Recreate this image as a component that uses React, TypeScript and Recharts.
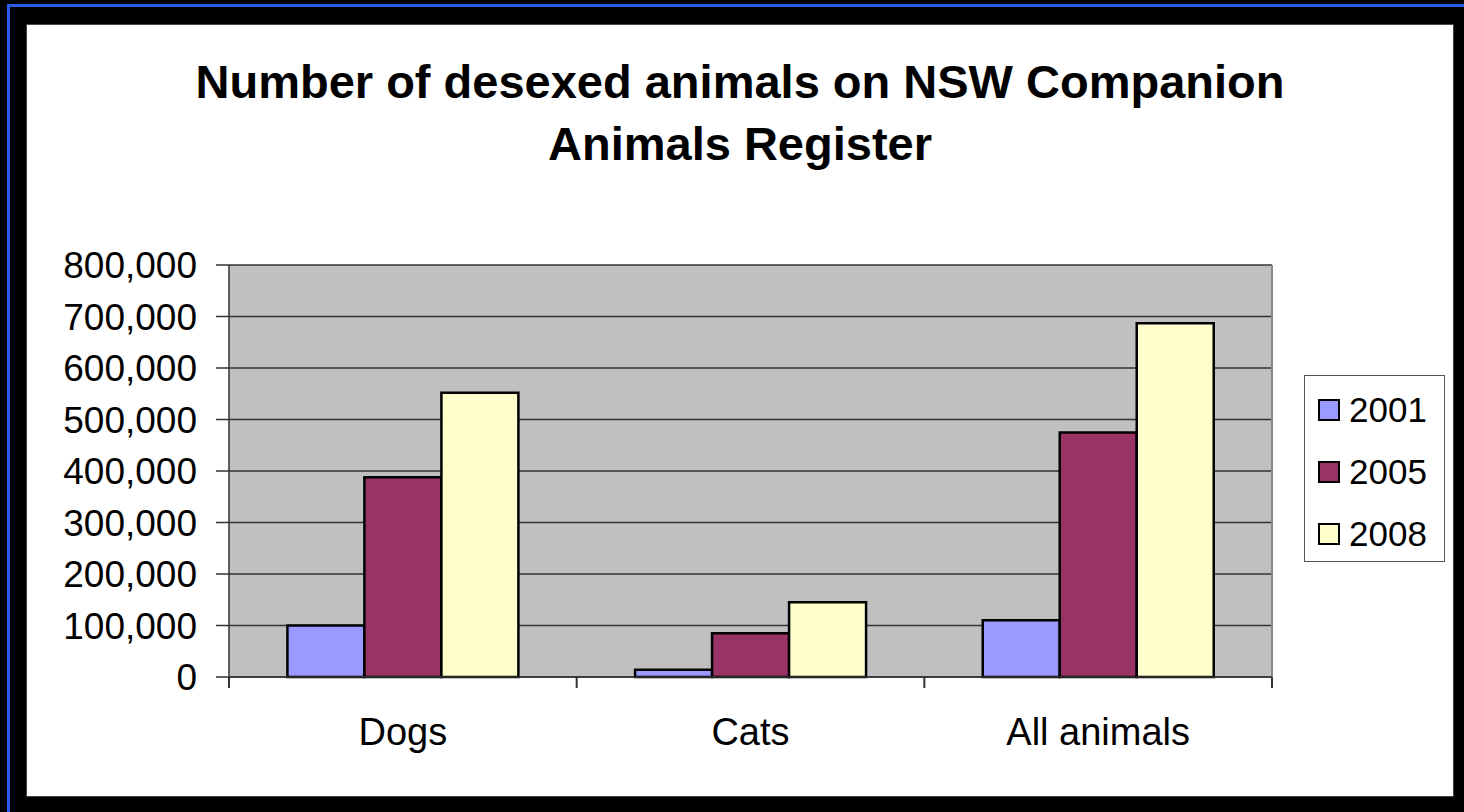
import { BarChart, Bar, XAxis, YAxis, CartesianGrid } from "recharts";

// values
const categories = ["Dogs", "Cats", "All animals"];
const years = ["2001", "2005", "2008"];
const values2001 = [100000, 14000, 110000];
const values2005 = [388000, 85000, 475000];
const values2008 = [552000, 145000, 687000];
const yTicks = [0, 100000, 200000, 300000, 400000, 500000, 600000, 700000, 800000];

const colors = ["#9999ff", "#993366", "#ffffcc"];

const data = categories.map((name, i) => ({
  name,
  y2001: values2001[i],
  y2005: values2005[i],
  y2008: values2008[i],
}));

const FONT = "'Liberation Sans', Arial, sans-serif";

// category label plus Excel-style tick marks on the category boundaries
const CategoryTick = (props: any) => {
  const { x, y, payload, index } = props;
  const half = payload?.offset ?? 0;
  const last = index === categories.length - 1;
  return (
    <g>
      <line x1={x - half} x2={x - half} y1={y} y2={y + 11} stroke="#333" strokeWidth={2} />
      {last && <line x1={x + half} x2={x + half} y1={y} y2={y + 11} stroke="#333" strokeWidth={2} />}
      <text x={x} y={y + 41} dy="0.71em" textAnchor="middle" fill="#000" fontSize={38} fontFamily={FONT}>
        {payload.value}
      </text>
    </g>
  );
};

export default function App() {
  const fmt = (v: number) => v.toLocaleString("en-US");

  return (
    <div
      style={{
        position: "absolute",
        left: 0,
        top: 0,
        width: 1464,
        height: 812,
        background: "#000",
        overflow: "hidden",
        fontFamily: FONT,
      }}
    >
      {/* blue frame edges */}
      <div style={{ position: "absolute", left: 7, top: 4, width: 1457, height: 3, background: "#2a5bea" }} />
      <div style={{ position: "absolute", left: 7, top: 4, width: 3, height: 808, background: "#2a5bea" }} />

      {/* white panel */}
      <div
        style={{
          position: "absolute",
          left: 26,
          top: 24,
          width: 1428,
          height: 773,
          background: "#fff",
          boxSizing: "border-box",
          border: "1px solid #444",
        }}
      />

      {/* title */}
      <div
        style={{
          position: "absolute",
          left: 26,
          top: 51,
          width: 1428,
          textAlign: "center",
          fontWeight: "bold",
          fontSize: 47,
          lineHeight: "62px",
          color: "#000",
        }}
      >
        Number of desexed animals on NSW Companion
        <br />
        Animals Register
      </div>

      <div style={{ position: "absolute", left: 0, top: 0 }}>
        <BarChart
          width={1464}
          height={812}
          data={data}
          margin={{ top: 265, right: 192, bottom: 64, left: 0 }}
          barGap={0}
          barCategoryGap="16.8%"
        >
          <CartesianGrid
            vertical={false}
            fill="#c0c0c0"
            fillOpacity={1}
            stroke="#333"
            strokeWidth={1.5}
          />
          <CartesianGrid
            horizontal={false}
            verticalCoordinatesGenerator={({ offset }: any) => [offset.left + offset.width]}
            stroke="#888"
            strokeWidth={2}
          />
          <XAxis
            dataKey="name"
            height={71}
            interval={0}
            axisLine={{ stroke: "#333", strokeWidth: 1.5 }}
            tickLine={false}
            tickSize={0}
            tickMargin={0}
            tick={<CategoryTick />}
          />
          <YAxis
            width={229}
            domain={[0, 800000]}
            ticks={yTicks}
            interval={0}
            tickFormatter={fmt}
            tickSize={13}
            tickMargin={19}
            axisLine={{ stroke: "#333", strokeWidth: 1.5 }}
            tickLine={{ stroke: "#333", strokeWidth: 1.5 }}
            tick={{ fill: "#000", fontSize: 37, fontFamily: FONT }}
          />
          <Bar dataKey="y2001" fill={colors[0]} stroke="#000" strokeWidth={2.5} isAnimationActive={false} />
          <Bar dataKey="y2005" fill={colors[1]} stroke="#000" strokeWidth={2.5} isAnimationActive={false} />
          <Bar dataKey="y2008" fill={colors[2]} stroke="#000" strokeWidth={2.5} isAnimationActive={false} />
        </BarChart>
      </div>

      {/* legend */}
      <div
        style={{
          position: "absolute",
          left: 1304,
          top: 375,
          width: 141,
          height: 187,
          boxSizing: "border-box",
          border: "1.5px solid #555",
          background: "#fff",
          paddingTop: 3,
        }}
      >
        {years.map((y, i) => (
          <div key={y} style={{ display: "flex", alignItems: "center", height: 62, paddingLeft: 13 }}>
            <div
              style={{
                width: 22,
                height: 22,
                boxSizing: "border-box",
                border: "2px solid #000",
                background: colors[i],
                marginRight: 9,
              }}
            />
            <span style={{ fontSize: 35, color: "#000" }}>{y}</span>
          </div>
        ))}
      </div>
    </div>
  );
}
